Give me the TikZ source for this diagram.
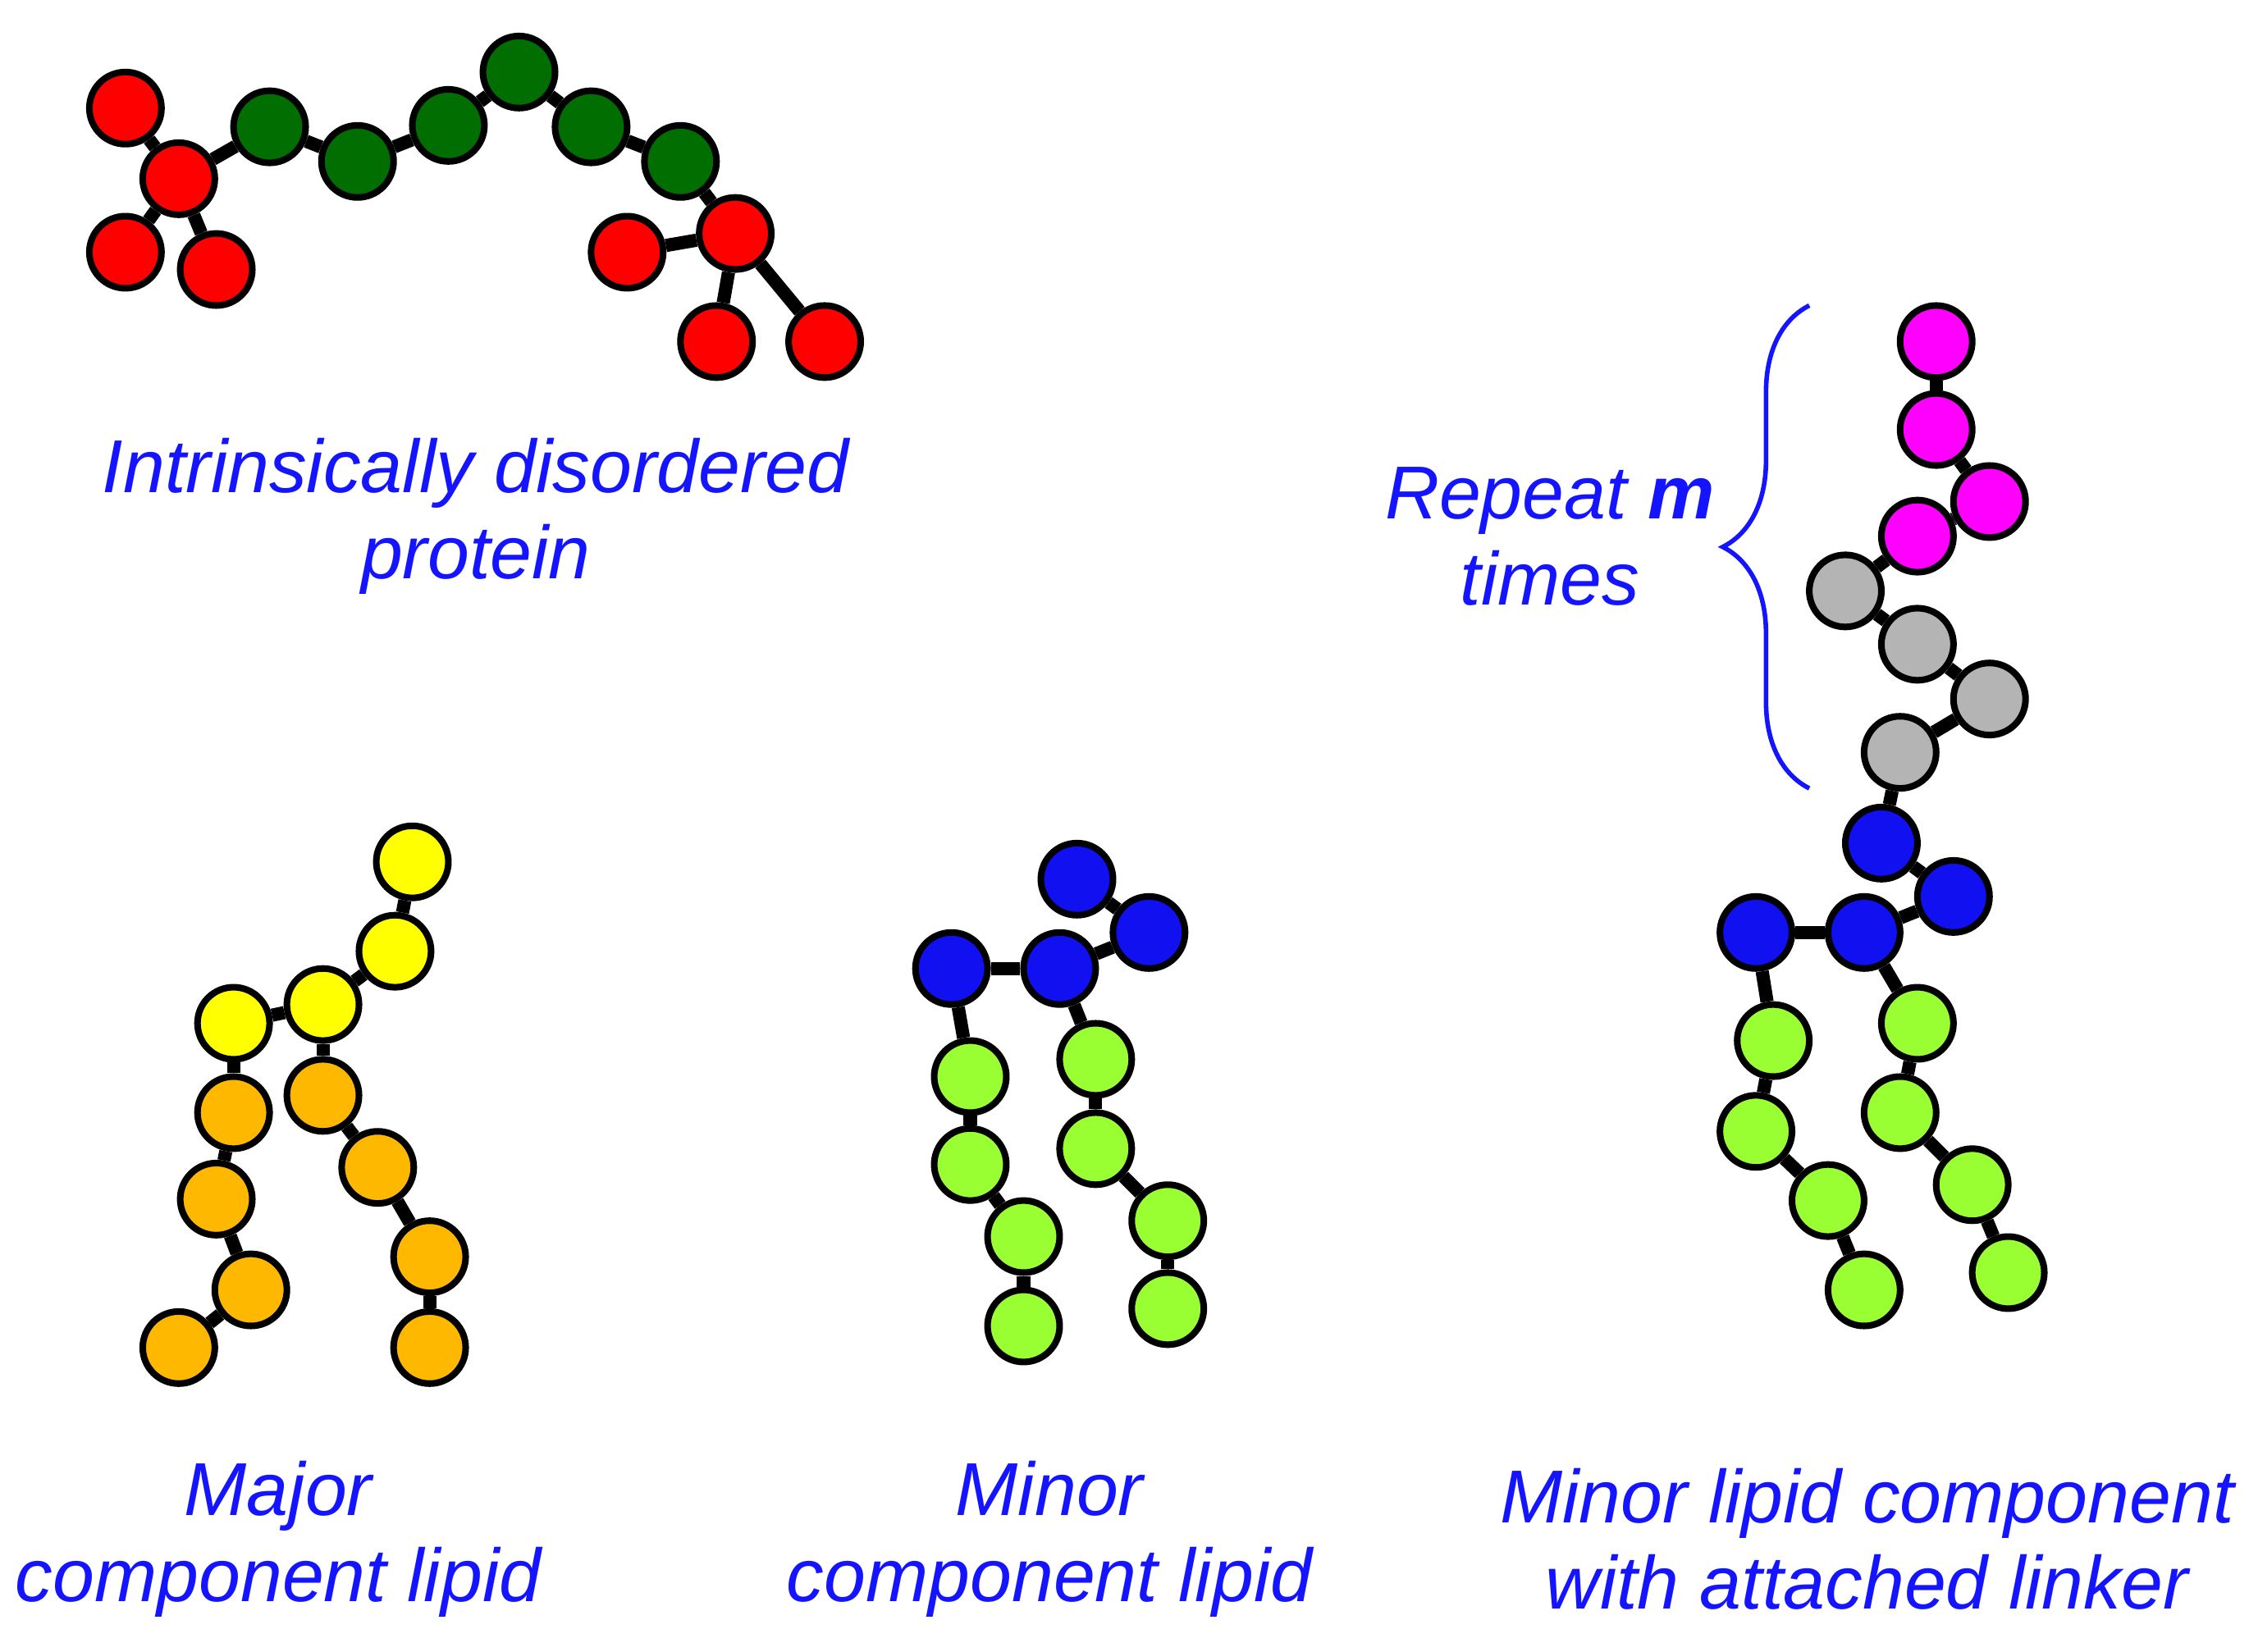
\documentclass[tikz,border=0pt]{standalone}
\usepackage{fontspec}
\setmainfont{Liberation Sans}
\usetikzlibrary{decorations.pathreplacing}
\definecolor{cred}{RGB}{255,0,0}
\definecolor{cdg}{RGB}{0,110,0}
\definecolor{cyel}{RGB}{255,255,0}
\definecolor{cor}{RGB}{255,184,0}
\definecolor{cbl}{RGB}{16,16,240}
\definecolor{clg}{RGB}{153,255,51}
\definecolor{cmag}{RGB}{255,0,255}
\definecolor{cgr}{RGB}{180,180,180}
\definecolor{ctxt}{RGB}{20,20,255}
\begin{document}
\begin{tikzpicture}[x=0.01cm,y=-0.01cm,
  b/.style={circle,draw=black,line width=1.3pt,minimum size=0.5cm,inner sep=0pt},
  R/.style={b,fill=cred},G/.style={b,fill=cdg},Y/.style={b,fill=cyel},O/.style={b,fill=cor},
  B/.style={b,fill=cbl},L/.style={b,fill=clg},M/.style={b,fill=cmag},S/.style={b,fill=cgr},
  e/.style={line width=2.6pt,black},
  lab/.style={text=ctxt,font=\fontsize{14.8pt}{17pt}\selectfont\itshape,align=center}]
\useasboundingbox (0,0) rectangle (1560,1146);
% protein
\node[R] (r1) at (87,75) {}; \node[R] (r2) at (124,124) {}; \node[R] (r3) at (87,175) {};
\node[R] (r4) at (150,187) {}; \node[G] (g1) at (187,88) {}; \node[G] (g2) at (248,112) {};
\node[G] (g3) at (311,87) {}; \node[G] (g4) at (360,50) {}; \node[G] (g5) at (410,88) {};
\node[G] (g6) at (472,112) {}; \node[R] (r5) at (510,162) {}; \node[R] (r6) at (435,175) {};
\node[R] (r7) at (497,237) {}; \node[R] (r8) at (572,237) {};
\foreach \a/\c in {r1/r2,r2/r3,r2/r4,r2/g1,g1/g2,g2/g3,g3/g4,g4/g5,g5/g6,g6/r5,r5/r6,r5/r7,r5/r8}
  \draw[e] (\a) -- (\c);
\node[lab] (t1) at (330,358) {Intrinsically disordered\\protein};
% major lipid
\node[Y] (y1) at (286,598) {}; \node[Y] (y2) at (274,660) {}; \node[Y] (y3) at (224,697) {};
\node[Y] (y4) at (162,710) {}; \node[O] (o1) at (162,772) {}; \node[O] (o2) at (224,760) {};
\node[O] (o3) at (150,832) {}; \node[O] (o4) at (262,810) {}; \node[O] (o5) at (174,895) {};
\node[O] (o6) at (298,872) {}; \node[O] (o7) at (124,935) {}; \node[O] (o8) at (298,935) {};
\foreach \a/\c in {y1/y2,y2/y3,y3/y4,y4/o1,y3/o2,o1/o3,o3/o5,o5/o7,o2/o4,o4/o6,o6/o8}
  \draw[e] (\a) -- (\c);
\node[lab] (t2) at (193,1068) {Major\\component lipid};
% minor lipid
\node[B] (b1) at (747,610) {}; \node[B] (b2) at (797,647) {}; \node[B] (b3) at (735,672) {};
\node[B] (b4) at (660,672) {}; \node[L] (k1) at (673,747) {}; \node[L] (k2) at (760,735) {};
\node[L] (k3) at (673,808) {}; \node[L] (k4) at (760,797) {}; \node[L] (k5) at (710,858) {};
\node[L] (k6) at (810,847) {}; \node[L] (k7) at (710,920) {}; \node[L] (k8) at (810,908) {};
\foreach \a/\c in {b1/b2,b2/b3,b3/b4,b4/k1,b3/k2,k1/k3,k3/k5,k5/k7,k2/k4,k4/k6,k6/k8}
  \draw[e] (\a) -- (\c);
\node[lab] (t3) at (728,1068) {Minor\\component lipid};
% linker lipid
\node[M] (m1) at (1343,237) {}; \node[M] (m2) at (1343,298) {}; \node[M] (m3) at (1380,348) {};
\node[M] (m4) at (1330,372) {}; \node[S] (s1) at (1280,410) {}; \node[S] (s2) at (1330,447) {};
\node[S] (s3) at (1380,485) {}; \node[S] (s4) at (1318,522) {}; \node[B] (c1) at (1305,585) {};
\node[B] (c2) at (1355,622) {}; \node[B] (c3) at (1293,647) {}; \node[B] (c4) at (1218,647) {};
\node[L] (l1) at (1230,722) {}; \node[L] (l2) at (1330,710) {}; \node[L] (l3) at (1218,785) {};
\node[L] (l4) at (1318,772) {}; \node[L] (l5) at (1268,833) {}; \node[L] (l6) at (1368,822) {};
\node[L] (l7) at (1293,895) {}; \node[L] (l8) at (1393,883) {};
\foreach \a/\c in {m1/m2,m2/m3,m3/m4,m4/s1,s1/s2,s2/s3,s3/s4,s4/c1,c1/c2,c2/c3,c3/c4,c4/l1,c3/l2,l1/l3,l3/l5,l5/l7,l2/l4,l4/l6,l6/l8}
  \draw[e] (\a) -- (\c);
\coordinate (br1) at (1255,547); \coordinate (br2) at (1255,212);
\draw[ctxt,line width=0.9pt,decorate,decoration={brace,amplitude=0.6cm}] (br1) -- (br2);
\node[lab] (t4) at (1075,372) {Repeat \textbf{m}\\times};
\node[lab] (t5) at (1295,1068) {Minor lipid component\\with attached linker};
\end{tikzpicture}
\end{document}
